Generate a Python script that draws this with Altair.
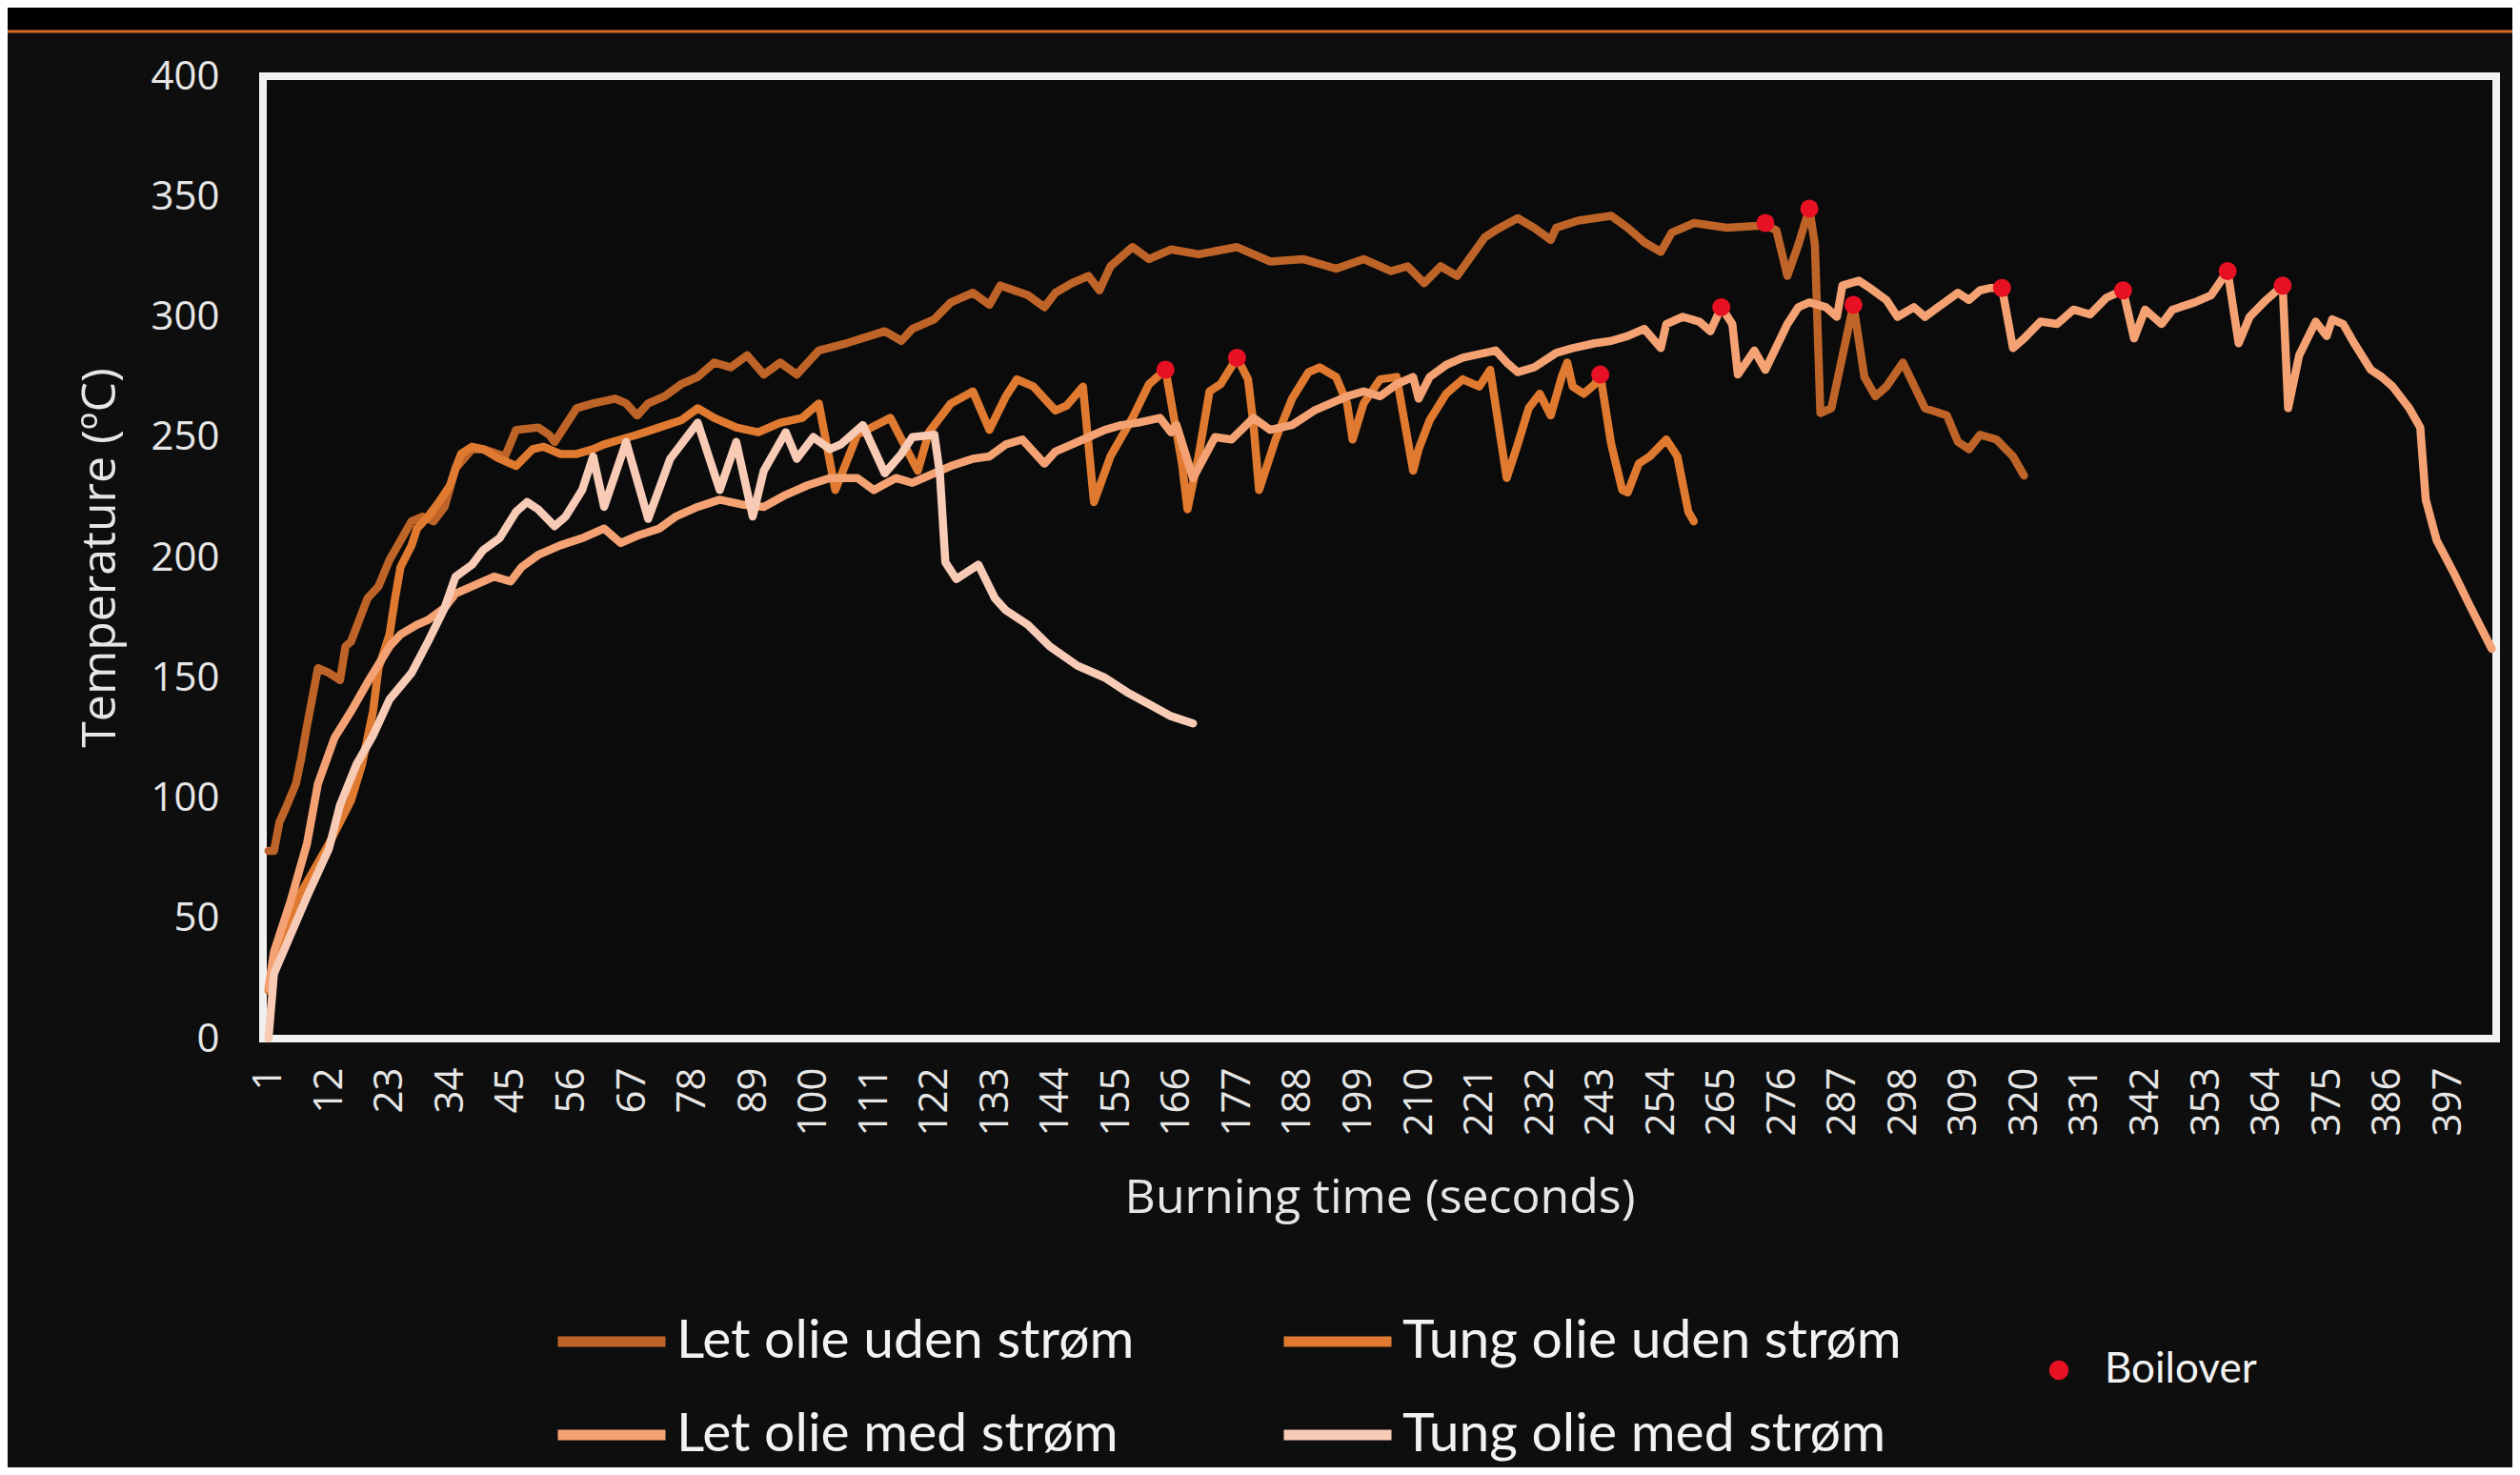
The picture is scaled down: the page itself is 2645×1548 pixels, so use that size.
import altair as alt
import pandas as pd

SERIES = ["Let olie uden strøm", "Tung olie uden strøm", "Let olie med strøm", "Tung olie med strøm"]
COLORS = ["#BF6428", "#E07A30", "#F4A273", "#F8CBB6"]
# legend fills column by column: this order puts the entries in the reference's 2x2 grid
LEGEND_ORDER = ["Let olie uden strøm", "Let olie med strøm", "Tung olie uden strøm", "Tung olie med strøm"]
LEGEND_COLORS = ["#BF6428", "#F4A273", "#E07A30", "#F8CBB6"]

LET_UDEN = [(1,78),(2,78),(3,90),(4,95),(6,106),(7,117),(8,130),(10,154),(12,152),(14,149),(15,163),(16,165),
            (18,177),(19,183),(21,188),(23,199),(25,207),(27,215),(29,217),(31,215),(33,221),(35,237),(38,245),
            (40,245),(44,242),(46,253),(50,254),(52,251),(53,248),(55,255),(57,262),(60,264),(62,265),(64,266),
            (66,264),(68,259),(70,264),(73,267),(76,272),(79,275),(82,281),(85,279),(88,284),(91,276),(94,281),
            (97,276),(101,286),(106,289),(113,294),(116,290),(118,295),(122,299),(125,306),(129,310),(132,305),
            (134,313),(139,309),(142,304),(144,310),(147,314),(150,317),(152,311),(154,321),(158,329),(161,324),
            (165,328),(170,326),(177,329),(183,323),(189,324),(195,320),(200,324),(205,319),(208,321),(211,314),
            (214,321),(217,317),(222,333),(224,336),(228,341),(231,337),(234,332),(235,337),(239,340),(242,341),
            (245,342),(248,337),(251,331),(254,327),(256,335),(260,339),(266,337),(273,338),(275,336),(277,317),
            (279,330),(281,345),(282,330),(283,260),(285,262),(289,305),(291,275),(293,267),(295,271),(298,281),
            (302,262),(306,259),(308,248),(310,245),(312,251),(315,249),(318,242),(320,234)]

TUNG_UDEN = [(1,20),(6,57),(12,81),(16,99),(18,114),(20,136),(21,154),(23,168),(24,183),(25,196),(27,205),
             (28,212),(30,217),(32,223),(34,230),(35,237),(36,243),(38,246),(40,245),(43,241),(46,238),(49,245),
             (51,246),(54,243),(57,243),(60,245),(62,247),(65,249),(68,251),(72,254),(76,257),(79,262),(82,258),
             (86,254),(90,252),(94,256),(98,258),(101,264),(104,228),(108,251),(114,258),(119,236),(121,252),
             (125,264),(129,269),(132,253),(135,267),(137,274),(140,271),(144,261),(146,263),(149,271),(151,223),
             (154,242),(158,258),(161,272),(164,278),(167,239),(168,220),(170,242),(172,269),(174,272),(177,283),
             (179,274),(180,255),(181,228),(184,249),(187,266),(190,277),(192,279),(195,275),(197,264),(198,249),
             (200,264),(203,274),(206,275),(209,236),(210,245),(212,257),(215,268),(218,274),(221,271),(223,278),
             (225,248),(226,233),(228,247),(230,262),(232,268),(234,259),(236,275),(237,281),(238,271),(240,268),
             (242,272),(243,276),(245,247),(247,228),(248,227),(250,239),(252,242),(255,249),(257,242),(259,219),
             (260,215)]

LET_MED = [(1,21),(2,36),(5,57),(8,81),(10,106),(13,125),(16,136),(19,148),(23,163),(25,168),(28,172),(30,174),
           (33,179),(35,185),(38,188),(42,192),(45,190),(47,196),(50,201),(54,205),(58,208),(62,212),(65,206),
           (68,209),(72,212),(75,217),(79,221),(83,224),(87,222),(91,221),(95,226),(99,230),(103,233),(108,233),
           (111,228),(115,233),(118,231),(122,235),(125,238),(129,241),(132,242),(135,247),(138,249),(142,239),
           (144,244),(147,247),(150,250),(153,253),(156,255),(159,256),(163,258),(165,252),(166,255),(169,233),
           (173,250),(176,249),(180,258),(183,253),(187,255),(191,261),(194,264),(197,267),(200,269),(203,267),
           (206,272),(209,275),(210,266),(212,275),(215,280),(218,283),(222,285),(224,286),(226,281),(228,277),
           (231,279),(235,285),(238,287),(242,289),(245,290),(248,292),(251,295),(254,287),(255,297),(258,300),
           (261,298),(263,294),(265,304),(267,297),(268,276),(271,286),(273,278),(277,297),(279,304),(281,306),
           (284,304),(286,300),(287,313),(290,315),(292,312),(295,307),(297,300),(300,304),(302,300),(305,305),
           (308,310),(310,307),(312,311),(314,312),(316,312),(318,287),(320,291),(323,298),(326,297),(329,303),
           (332,301),(335,308),(338,311),(340,291),(342,303),(345,297),(347,303),(351,306),(354,309),(357,319),
           (359,289),(361,300),(364,307),(367,313),(368,262),(370,284),(373,298),(375,292),(376,299),(378,297),
           (380,289),(383,278),(385,275),(387,271),(390,262),(392,254),(393,224),(395,207),(398,194),(401,180),
           (403,171),(405,162)]

TUNG_MED = [(1,0),(2,27),(5,43),(8,59),(12,79),(14,97),(17,114),(20,126),(23,141),(27,152),(30,165),(33,179),
            (35,192),(38,197),(40,203),(43,208),(46,219),(48,223),(50,220),(53,213),(55,217),(58,228),(60,242),
            (62,221),(66,248),(70,216),(74,241),(79,256),(83,228),(86,248),(89,217),(91,236),(95,252),(97,241),
            (100,250),(103,245),(105,247),(109,255),(113,235),(116,243),(118,250),(122,251),(123,235),(124,198),
            (126,191),(130,197),(133,183),(135,178),(139,172),(143,163),(148,155),(153,150),(157,144),(161,139),
            (165,134),(169,131)]

BOIL_T = [164, 177, 243, 265, 273, 281, 289, 316, 338, 357, 367]
BOIL_V = [278, 283, 276, 304, 339, 345, 305, 312, 311, 319, 313]

X_TICKS = [1, 12, 23, 34, 45, 56, 67, 78, 89, 100, 111, 122, 133, 144, 155, 166, 177, 188, 199, 210, 221,
           232, 243, 254, 265, 276, 287, 298, 309, 320, 331, 342, 353, 364, 375, 386, 397]
Y_TICKS = [0, 50, 100, 150, 200, 250, 300, 350, 400]

rows = []
for name, pts in zip(SERIES, [LET_UDEN, TUNG_UDEN, LET_MED, TUNG_MED]):
    for t, v in pts:
        rows.append({"series": name, "t": t, "temp": v})
df = pd.DataFrame(rows)
boil = pd.DataFrame({"t": BOIL_T, "temp": BOIL_V, "kind": ["Boilover"] * len(BOIL_T)})

TXT = "#e6e6e6"
W, H = 2344, 1010

x_enc = alt.X("t:Q",
              scale=alt.Scale(domain=[0, 405.8], nice=False, zero=False),
              axis=alt.Axis(title="Burning time (seconds)", values=X_TICKS, format="d",
                            labelAngle=270, labelFont="Open Sans", labelFontSize=42, labelColor=TXT,
                            labelPadding=30, labelFlush=False, labelOverlap=False,
                            ticks=False, domain=False, grid=False,
                            titleFont="Open Sans", titleFontSize=50, titleFontWeight="normal",
                            titleColor=TXT, titleY=167, titleBaseline="middle"))
y_enc = alt.Y("temp:Q",
              scale=alt.Scale(domain=[0, 400], nice=False),
              axis=alt.Axis(title="Temperature (ºC)", values=Y_TICKS,
                            labelFont="Open Sans", labelFontSize=42, labelColor=TXT, labelPadding=46,
                            ticks=False, domain=False, grid=False,
                            titleFont="Open Sans", titleFontSize=50, titleFontWeight="normal",
                            titleColor=TXT, titleX=-171, titleY=H / 2, titleAngle=270,
                            titleBaseline="middle"))
color_enc = alt.Color("series:N", scale=alt.Scale(domain=LEGEND_ORDER, range=LEGEND_COLORS), title=None,
                      legend=alt.Legend(orient="none", legendX=304, legendY=1266, columns=2,
                                        columnPadding=134, rowPadding=8, padding=0,
                                        symbolType="stroke", symbolSize=12769, symbolStrokeWidth=11,
                                        labelFont="Lato", labelFontSize=57, labelColor="#f2f2f2",
                                        labelOffset=6, labelLimit=1000))

band = alt.Chart(pd.DataFrame({"a": [0]})).mark_rect(color="#000000").encode(
    x=alt.value(-268), x2=alt.value(W + 17), y=alt.value(-72), y2=alt.value(-48.5))
rule = alt.Chart(pd.DataFrame({"a": [0]})).mark_rule(color="#D8692C", strokeWidth=3).encode(
    x=alt.value(-268), x2=alt.value(W + 17), y=alt.value(-47))

lines = []
for s in SERIES:
    lines.append(
        alt.Chart(df).transform_filter(alt.datum.series == s)
        .mark_line(strokeWidth=8.5, strokeJoin="round", strokeCap="round")
        .encode(x=x_enc, y=y_enc, color=color_enc)
    )

points = alt.Chart(boil).mark_circle(size=360, opacity=1).encode(
    x=x_enc, y=y_enc,
    fill=alt.Fill("kind:N", scale=alt.Scale(domain=["Boilover"], range=["#E81123"]), title=None,
                  legend=alt.Legend(orient="none", legendX=1863, legendY=1336, padding=0,
                                    symbolType="circle", symbolSize=420, symbolStrokeWidth=0,
                                    labelFont="Lato", labelFontSize=44, labelColor="#f2f2f2",
                                    labelOffset=26)))

chart = alt.layer(band, rule, *lines, points).properties(
    width=W, height=H,
    padding={"left": 268, "top": 72, "right": 17, "bottom": 450},
    autosize=alt.AutoSizeParams(type="none"),
    background="#0e0e0e",
).configure_view(stroke="#f2f2f2", strokeWidth=8, fill="#0b0b0b")

chart.save("out.html", embed_options={"renderer": "svg", "actions": False})
